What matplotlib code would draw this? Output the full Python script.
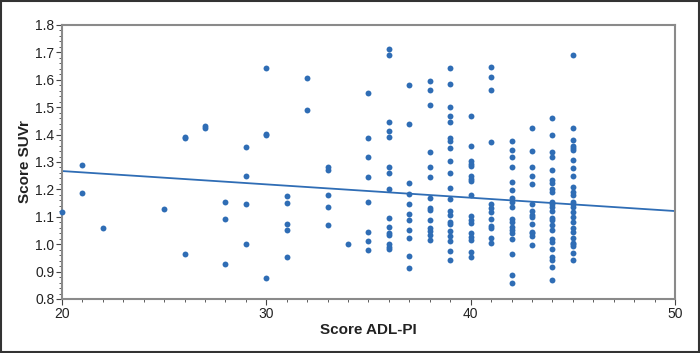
import matplotlib
matplotlib.use("Agg")
import matplotlib.pyplot as plt
from matplotlib.ticker import MultipleLocator
from matplotlib.patches import Rectangle
from matplotlib import font_manager

# ---- data ----
adl_scores = [20, 21, 22, 25, 26, 27, 28, 29, 30, 31, 32, 33, 34, 35, 36, 37, 38, 39, 40, 41, 42, 43, 44, 45]
suvr_values = [
    [1.116],
    [1.290, 1.186],
    [1.060],
    [1.128],
    [1.386, 1.392, 0.963],
    [1.425, 1.431],
    [1.155, 1.092, 0.928],
    [1.355, 1.248, 1.147, 1.000],
    [1.644, 1.398, 1.404, 0.878],
    [1.175, 1.150, 1.074, 1.051, 0.954],
    [1.605, 1.490],
    [1.283, 1.272, 1.180, 1.136, 1.069],
    [1.000],
    [1.553, 1.389, 1.317, 1.245, 1.155, 1.046, 1.013, 0.980],
    [1.711, 1.689, 1.446, 1.414, 1.391, 1.283, 1.260, 1.203, 1.095, 1.062, 1.040, 1.035, 1.000, 0.991, 0.984],
    [1.580, 1.440, 1.224, 1.183, 1.146, 1.109, 1.087, 1.053, 1.022, 0.957, 0.913],
    [1.596, 1.562, 1.508, 1.338, 1.283, 1.244, 1.170, 1.133, 1.125, 1.087, 1.059, 1.048, 1.035, 1.015],
    [1.643, 1.585, 1.501, 1.469, 1.446, 1.386, 1.375, 1.350, 1.305, 1.259, 1.205, 1.166, 1.122, 1.108,
     1.082, 1.075, 1.049, 1.030, 1.011, 0.975, 0.942],
    [1.469, 1.358, 1.302, 1.293, 1.285, 1.249, 1.238, 1.230, 1.178, 1.103, 1.087, 1.076, 1.041, 1.027,
     1.015, 0.973, 0.953],
    [1.648, 1.609, 1.563, 1.374, 1.146, 1.133, 1.119, 1.091, 1.066, 1.060, 1.024, 1.005],
    [1.378, 1.344, 1.317, 1.283, 1.228, 1.199, 1.167, 1.155, 1.135, 1.092, 1.080, 1.064, 1.052, 1.042,
     1.018, 0.965, 0.886, 0.857],
    [1.423, 1.340, 1.283, 1.249, 1.220, 1.146, 1.121, 1.107, 1.098, 1.073, 1.046, 1.040, 1.030, 0.996],
    [1.462, 1.399, 1.336, 1.318, 1.271, 1.234, 1.224, 1.200, 1.190, 1.154, 1.146, 1.136, 1.121, 1.096,
     1.088, 1.071, 1.053, 1.018, 1.009, 0.981, 0.952, 0.942, 0.918, 0.870],
    [1.689, 1.423, 1.379, 1.358, 1.350, 1.345, 1.306, 1.277, 1.249, 1.209, 1.189, 1.181, 1.154, 1.146,
     1.135, 1.116, 1.098, 1.080, 1.060, 1.043, 1.024, 1.005, 1.000, 0.993, 0.967, 0.942],
]
fit_x = [20, 50]
fit_y = [1.267, 1.121]

x_label = "Score ADL-PI"
y_label = "Score SUVr"

# ---- fonts ----
avail = {f.name for f in font_manager.fontManager.ttflist}
fam = "Liberation Sans Narrow" if "Liberation Sans Narrow" in avail else "Liberation Sans"
plt.rcParams["font.family"] = [fam, "DejaVu Sans"]

xs, ys = [], []
for s, vals in zip(adl_scores, suvr_values):
    xs.extend([s] * len(vals))
    ys.extend(vals)

fig = plt.figure(figsize=(7.0, 3.53), dpi=100)
ax = fig.add_axes([62 / 700, 1 - 299 / 353, (675 - 62) / 700, (299 - 25) / 353])

color = "#2f6db5"
ax.scatter(xs, ys, s=18, color=color, linewidths=0, zorder=3, clip_on=False)
ax.plot(fit_x, fit_y, color=color, lw=1.3, zorder=2)

ax.set_xlim(20, 50)
ax.set_ylim(0.8, 1.8)
ax.xaxis.set_major_locator(MultipleLocator(10))
ax.xaxis.set_minor_locator(MultipleLocator(1))
ax.yaxis.set_major_locator(MultipleLocator(0.1))
ax.yaxis.set_minor_locator(MultipleLocator(0.02))
ax.yaxis.set_major_formatter(plt.FuncFormatter(lambda v, p: f"{v:.1f}"))

for sp in ax.spines.values():
    sp.set_color("#8a8a8a")
    sp.set_linewidth(1.5)

ax.tick_params(axis="both", which="major", direction="out", length=4, width=0.8,
               color="#444444", labelsize=10, labelcolor="#222222", pad=1.5)
ax.tick_params(axis="both", which="minor", direction="out", length=2, width=0.6, color="#444444")

ax.set_xlabel(x_label, fontsize=11, fontweight="bold", color="#222222", labelpad=2)
ax.set_ylabel(y_label, fontsize=11, fontweight="bold", color="#222222", labelpad=2)

fig.patches.append(Rectangle((0.001, 0.002), 0.997, 0.996, transform=fig.transFigure,
                             fill=False, edgecolor="#333333", lw=1.5))

fig.savefig("out.png", dpi=100)
